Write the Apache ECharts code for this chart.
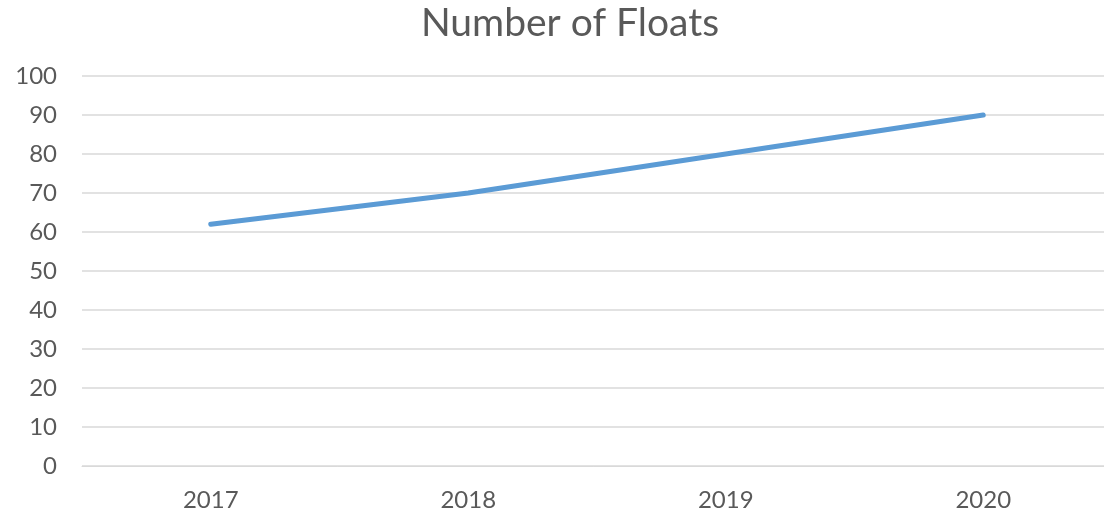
<!DOCTYPE html>
<html>
<head>
<meta charset="utf-8">
<script src="https://cdn.jsdelivr.net/npm/echarts@6/dist/echarts.min.js"></script>
<style>
  html, body { margin: 0; padding: 0; background: #fff; }
  #chart { width: 1104px; height: 516px; }
</style>
</head>
<body>
<div id="chart"></div>
<script>
// Number of floats per year
const years = ['2017', '2018', '2019', '2020'];
const floats = [62, 70, 80, 90];
const titleText = 'Number of Floats';

const FONT = 'Lato';
const TEXT_COLOR = '#595959';

const chart = echarts.init(document.getElementById('chart'));
chart.setOption({
  animation: false,
  backgroundColor: '#ffffff',
  title: {
    text: titleText,
    left: 565,
    top: -1,
    textAlign: 'center',
    textStyle: { fontFamily: FONT, fontSize: 39, fontWeight: 'normal', color: TEXT_COLOR }
  },
  // plot area runs past the right edge of the canvas
  grid: { left: 82, top: 76, width: 1030, height: 390, containLabel: false, outerBoundsMode: 'none' },
  xAxis: {
    type: 'category',
    data: years,
    boundaryGap: true,
    axisLine: { show: true, lineStyle: { color: '#d9d9d9', width: 1 } },
    axisTick: { show: false },
    axisLabel: { margin: 22, fontFamily: FONT, fontSize: 24, color: TEXT_COLOR }
  },
  yAxis: {
    type: 'value',
    min: 0,
    max: 100,
    interval: 10,
    axisLine: { show: false },
    axisTick: { show: false },
    axisLabel: { margin: 25, fontFamily: FONT, fontSize: 24, color: TEXT_COLOR },
    splitLine: { lineStyle: { color: '#d9d9d9', width: 1.5 } }
  },
  series: [{
    type: 'line',
    data: floats,
    symbol: 'none',
    lineStyle: { color: '#5b9bd5', width: 5, cap: 'round', join: 'round' }
  }]
});
</script>
</body>
</html>
